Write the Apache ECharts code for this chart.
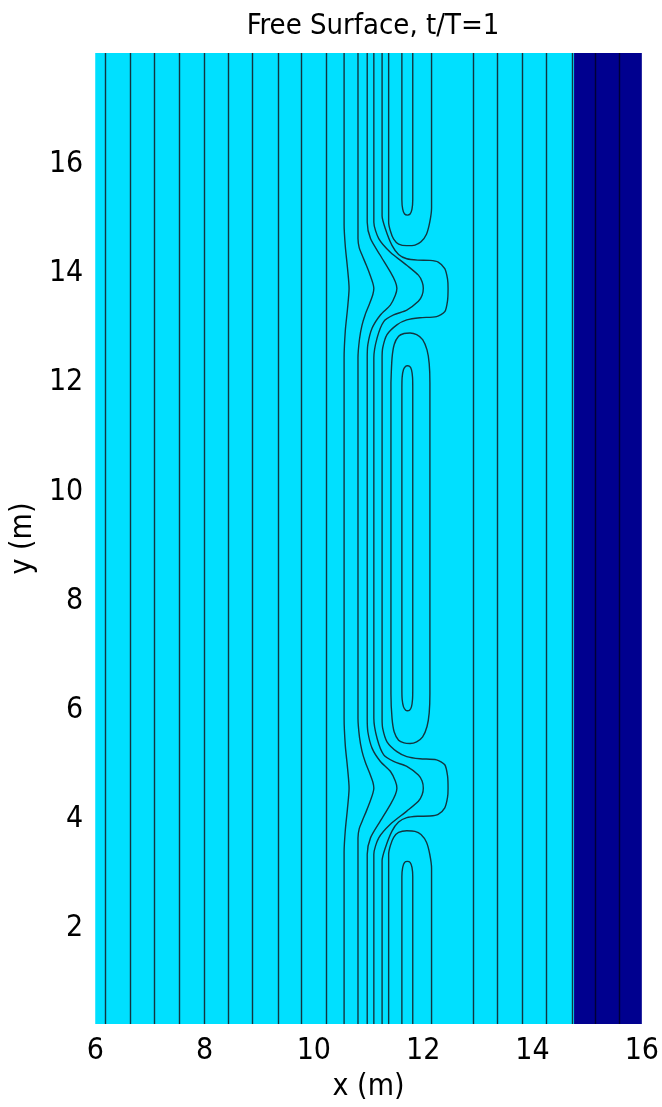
<!DOCTYPE html>
<html><head><meta charset="utf-8">
<script src="https://cdn.jsdelivr.net/npm/echarts@6/dist/echarts.min.js"></script>
<style>html,body{margin:0;padding:0;background:#fff}#c{width:662px;height:1107px}</style>
</head><body><div id="c"></div>
<script>
// ---- data ----
const titleText = 'Free Surface, t/T=1';
const xName = 'x (m)';
const yName = 'y (m)';
const xRange = [6, 16];
const yRange = [0.25, 18.04];
const xTicks = [6, 8, 10, 12, 14, 16];
const yTicks = [2, 4, 6, 8, 10, 12, 14, 16];
// filled level bands (x boundaries)
const bandEdges = [6, 14.76, 16];
// straight (y-independent) contour lines
const straightX = [6.18, 6.645, 7.08, 7.53, 8.0, 8.44, 8.88, 9.34, 9.77, 10.22, 12.91, 13.36, 13.81, 14.25, 14.72];
const straightXDark = [15.14, 15.59];
// curved contour lines [x, y]
const cA = [[10.553,18.04],[10.553,14.9],[10.575,14.5],[10.615,14.1],[10.644,13.73],[10.615,13.35],[10.575,12.95],[10.553,12.45],[10.553,5.85],[10.575,5.35],[10.615,4.95],[10.644,4.57],[10.615,4.2],[10.575,3.8],[10.553,3.4],[10.553,0.25]];
const cB = [[10.807,18.04],[10.807,14.64],[10.83,14.47],[10.885,14.33],[10.96,14.15],[11.03,13.97],[11.08,13.82],[11.097,13.73],[11.08,13.62],[11.02,13.45],[10.94,13.25],[10.88,13.05],[10.835,12.8],[10.807,12.45],[10.807,5.85],[10.835,5.5],[10.88,5.25],[10.94,5.05],[11.02,4.85],[11.08,4.68],[11.097,4.57],[11.08,4.48],[11.03,4.33],[10.96,4.15],[10.885,3.97],[10.83,3.83],[10.807,3.66],[10.807,0.25]];
const cC = [[10.976,18.04],[10.976,14.94],[11.036,14.64],[11.217,14.33],[11.399,14.03],[11.49,13.85],[11.519,13.73],[11.49,13.6],[11.399,13.42],[11.217,13.24],[11.066,13.0],[10.988,12.7],[10.976,12.45],[10.976,5.85],[10.988,5.6],[11.066,5.3],[11.217,5.06],[11.399,4.88],[11.49,4.7],[11.519,4.57],[11.49,4.45],[11.399,4.27],[11.217,3.97],[11.036,3.66],[10.976,3.36],[10.976,0.25]];
const cD = [[11.097,18.04],[11.097,14.94],[11.187,14.64],[11.399,14.39],[11.7,14.15],[11.912,13.97],[11.98,13.85],[12.002,13.73],[11.98,13.6],[11.912,13.49],[11.7,13.33],[11.459,13.24],[11.278,13.12],[11.157,12.82],[11.097,12.45],[11.097,5.85],[11.157,5.48],[11.278,5.18],[11.459,5.06],[11.7,4.97],[11.912,4.81],[11.98,4.7],[12.002,4.57],[11.98,4.45],[11.912,4.33],[11.7,4.15],[11.399,3.91],[11.187,3.66],[11.097,3.36],[11.097,0.25]];
const cE = [[11.248,18.04],[11.248,15.06],[11.308,14.82],[11.429,14.515],[11.55,14.35],[11.7,14.27],[11.9,14.245],[12.123,14.24],[12.274,14.21],[12.395,14.09],[12.445,13.9],[12.455,13.73],[12.445,13.5],[12.395,13.3],[12.244,13.21],[11.942,13.19],[11.7,13.15],[11.519,13.06],[11.338,12.88],[11.26,12.64],[11.248,12.45],[11.248,5.85],[11.26,5.66],[11.338,5.42],[11.519,5.24],[11.7,5.15],[11.942,5.11],[12.244,5.09],[12.395,5.0],[12.445,4.8],[12.455,4.57],[12.445,4.4],[12.395,4.21],[12.274,4.09],[12.123,4.06],[11.9,4.055],[11.7,4.03],[11.55,3.95],[11.429,3.785],[11.308,3.48],[11.248,3.24],[11.248,0.25]];
const cFtop = [[11.368,18.04],[11.368,14.94],[11.4,14.78],[11.46,14.63],[11.55,14.54],[11.7,14.51],[11.85,14.52],[11.96,14.58],[12.06,14.72],[12.12,14.94],[12.153,15.2],[12.153,18.04]];
const cFbot = [[11.368,0.25],[11.368,3.36],[11.4,3.52],[11.46,3.67],[11.55,3.76],[11.7,3.79],[11.85,3.78],[11.96,3.72],[12.06,3.58],[12.12,3.36],[12.153,3.1],[12.153,0.25]];
const cGtop = [[11.61,18.04],[11.61,15.35],[11.625,15.18],[11.66,15.09],[11.71,15.07],[11.76,15.09],[11.795,15.18],[11.809,15.35],[11.809,18.04]];
const cGbot = [[11.61,0.25],[11.61,2.95],[11.625,3.12],[11.66,3.21],[11.71,3.23],[11.76,3.21],[11.795,3.12],[11.809,2.95],[11.809,0.25]];
const cH = [[11.41,12.0],[11.43,12.45],[11.47,12.7],[11.55,12.85],[11.65,12.9],[11.76,12.91],[11.88,12.88],[11.99,12.79],[12.07,12.6],[12.11,12.35],[12.123,12.0],[12.123,6.3],[12.11,5.95],[12.07,5.7],[11.99,5.51],[11.88,5.42],[11.76,5.39],[11.65,5.4],[11.55,5.45],[11.47,5.6],[11.43,5.85],[11.41,6.3],[11.41,12.0]];
const cI = [[11.61,11.9],[11.615,12.1],[11.64,12.24],[11.68,12.3],[11.71,12.31],[11.75,12.3],[11.785,12.24],[11.805,12.1],[11.809,11.9],[11.809,6.4],[11.805,6.2],[11.785,6.06],[11.75,6.0],[11.71,5.99],[11.68,6.0],[11.64,6.06],[11.615,6.2],[11.61,6.4],[11.61,11.9]];
const curved = [cA, cB, cC, cD, cE, cFtop, cFbot, cGtop, cGbot, cH, cI];

// ---- styling ----
const FONT = "'Liberation Sans Narrow', 'DejaVu Sans Condensed', 'Liberation Sans', Arial, sans-serif";
const bandColors = ['#00E0FF', '#00008F'];
const lineColor = '#123540';
const darkLineColor = '#000035';

const chart = echarts.init(document.getElementById('c'), null, {renderer: 'canvas'});
const series = [];
series.push({
  type: 'line', data: [], z: 1, silent: true,
  markArea: {
    silent: true,
    data: bandColors.map((c, i) => [
      {xAxis: bandEdges[i], yAxis: yRange[0], itemStyle: {color: c, opacity: 1}},
      {xAxis: bandEdges[i + 1], yAxis: yRange[1]}
    ])
  }
});
series.push({
  type: 'line', data: [], z: 3, silent: true,
  markLine: {
    silent: true, symbol: 'none', animation: false,
    label: {show: false},
    lineStyle: {color: lineColor, width: 1.4, type: 'solid'},
    data: straightX.map(x => ({xAxis: x}))
      .concat(straightXDark.map(x => ({xAxis: x, lineStyle: {color: darkLineColor, width: 1.4, type: 'solid'}})))
  }
});
curved.forEach(pts => series.push({
  type: 'line', data: pts, z: 3, silent: true, showSymbol: false, smooth: 0.25,
  lineStyle: {color: lineColor, width: 1.4}, clip: true
}));

chart.setOption({
  animation: false,
  backgroundColor: '#ffffff',
  title: {
    text: titleText, left: 368, top: 7, textAlign: 'center',
    textStyle: {fontFamily: FONT, fontSize: 29, fontWeight: 'normal', color: '#000'}
  },
  grid: {left: 92, top: 53, width: 552, height: 978, containLabel: false},
  xAxis: {
    type: 'value', min: xRange[0], max: xRange[1], interval: 2,
    axisLine: {show: false}, axisTick: {show: false}, splitLine: {show: false},
    axisLabel: {fontFamily: FONT, fontSize: 30, color: '#000', margin: 12, customValues: xTicks},
    name: xName, nameLocation: 'middle', nameGap: 48,
    nameTextStyle: {fontFamily: FONT, fontSize: 30, color: '#000'}
  },
  yAxis: {
    type: 'value', min: yRange[0], max: yRange[1],
    axisLine: {show: false}, axisTick: {show: false}, splitLine: {show: false},
    axisLabel: {fontFamily: FONT, fontSize: 30, color: '#000', margin: 12, customValues: yTicks},
    name: yName, nameLocation: 'middle', nameGap: 50, nameRotate: 90,
    nameTextStyle: {fontFamily: FONT, fontSize: 30, color: '#000'}
  },
  series: series
});
</script></body></html>
